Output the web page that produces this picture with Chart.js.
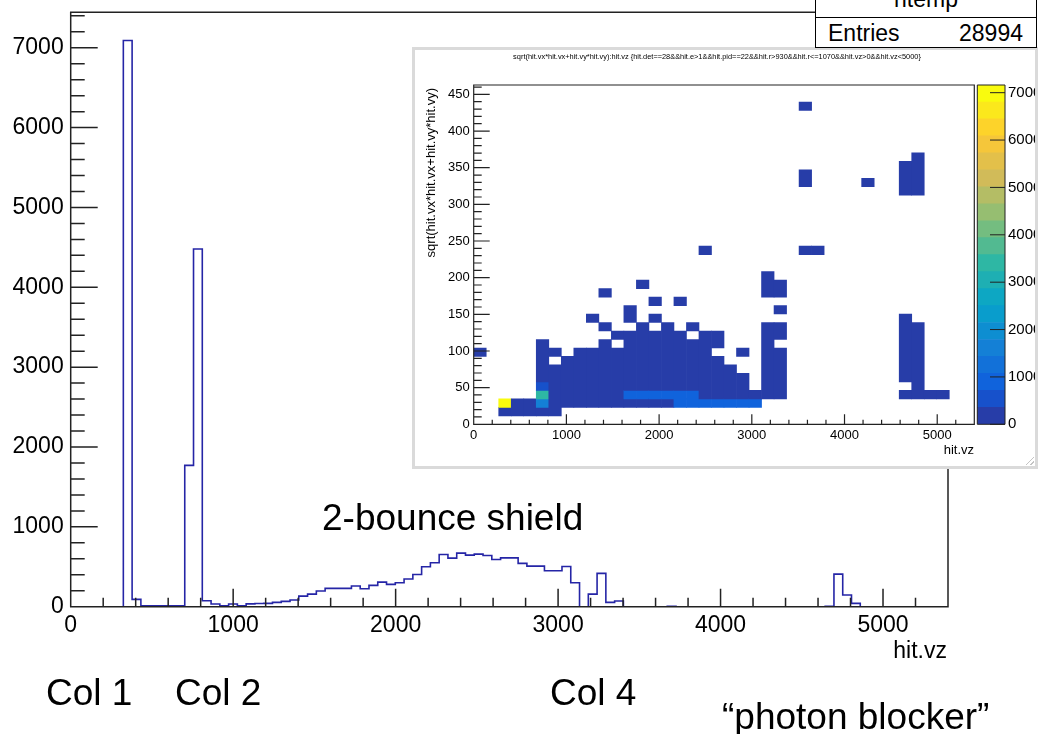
<!DOCTYPE html>
<html>
<head>
<meta charset="utf-8">
<title>hit.vz</title>
<script src="https://cdn.jsdelivr.net/npm/chart.js@4.4.1/dist/chart.umd.min.js"></script>
<style>
  html, body { margin: 0; padding: 0; background: #fff; }
  body { position: relative; width: 1040px; height: 734px; overflow: hidden;
         font-family: "Liberation Sans", Arial, Helvetica, sans-serif; color: #000; }
  canvas { position: absolute; left: 0; top: 0; }
  .txt { position: absolute; white-space: nowrap; line-height: 1; }
  .big { font-size: 37px; }
  .mid { font-size: 23px; }
  #stats { position: absolute; left: 815px; top: -32px; width: 220px; height: 78px;
           border: 1px solid #000; background: #fff; z-index: 3; }
  #statsLine { position: absolute; left: 0; top: 48px; width: 220px; height: 1px; background: #000; }
  #inset { position: absolute; left: 412px; top: 47px; width: 620px; height: 416px;
           border: 3px solid #dadada; background: #fff; overflow: hidden; z-index: 2; }
  #insetTitle { left: 0; top: 3px; width: 604px; text-align: center; font-size: 7.4px; }
  #insetYTitle { left: -291.5px; top: 38px; width: 300px; text-align: right; font-size: 13px;
                 transform-origin: 100% 0; transform: rotate(-90deg); }
  #insetXTitle { right: 61px; top: 393px; font-size: 13px; }
  #grip { position: absolute; right: 1px; bottom: 1px; width: 8px; height: 8px;
          background: linear-gradient(135deg, transparent 45%, #c4c4c4 45%, #c4c4c4 55%, transparent 55%, transparent 75%, #c4c4c4 75%, #c4c4c4 85%, transparent 85%); }
</style>
</head>
<body>
<canvas id="main" width="1040" height="734"></canvas>

<div class="txt mid" style="right:93px; top:638.5px;">hit.vz</div>
<div class="txt big" style="left:322px; top:498.7px;">2-bounce shield</div>
<div class="txt big" style="left:46px; top:673.7px;">Col 1</div>
<div class="txt big" style="left:175px; top:673.7px;">Col 2</div>
<div class="txt big" style="left:550px; top:673.7px;">Col 4</div>
<div class="txt big" style="left:722px; top:697.7px;">“photon blocker”</div>

<div id="stats">
  <div class="txt mid" style="left:0; width:220px; text-align:center; top:18.5px;">htemp</div>
  <div id="statsLine"></div>
  <div class="txt mid" style="left:12px; top:52.5px;">Entries</div>
  <div class="txt mid" style="right:13px; top:52.5px;">28994</div>
</div>

<div id="inset">
  <canvas id="map" width="620" height="416"></canvas>
  <canvas id="palette" width="60" height="416" style="left:560px;"></canvas>
  <div id="insetTitle" class="txt">sqrt(hit.vx*hit.vx+hit.vy*hit.vy):hit.vz {hit.det==28&amp;&amp;hit.e&gt;1&amp;&amp;hit.pid==22&amp;&amp;hit.r&gt;930&amp;&amp;hit.r&lt;=1070&amp;&amp;hit.vz&gt;0&amp;&amp;hit.vz&lt;5000}</div>
  <div id="insetYTitle" class="txt">sqrt(hit.vx*hit.vx+hit.vy*hit.vy)</div>
  <div id="insetXTitle" class="txt">hit.vz</div>
  <div id="grip"></div>
</div>

<script>
// ---- 1D histogram of hit.vz (100 bins over 0..5400) ----
const vzMin = 0;
const vzMax = 5400;
const vzCounts = [
  0, 0, 0, 0, 0, 0, 7090, 92, 12, 10,
  10, 12, 10, 1770, 4480, 75, 33, 12, 33, 12,
  35, 40, 42, 54, 67, 83, 133, 158, 196, 229,
  229, 229, 260, 225, 267, 308, 279, 300, 346, 404,
  500, 550, 654, 608, 671, 646, 658, 642, 592, 612,
  612, 542, 508, 508, 450, 450, 504, 300, 0, 158,
  417, 54, 71, 0, 0, 0, 0, 0, 4, 0,
  0, 0, 0, 0, 0, 0, 0, 0, 0, 0,
  0, 0, 0, 0, 0, 0, 5, 408, 146, 42,
  0, 0, 0, 0, 0, 0, 0, 0, 0, 0
];
const vzYMax = 7444;
const vzTicks = [0, 1000, 2000, 3000, 4000, 5000];
const countTicks = [0, 1000, 2000, 3000, 4000, 5000, 6000, 7000];

// ---- 2D histogram r vs vz (40 x 40 bins) ----
const mapXMax = 5400;
const mapYMax = 462.8;
const mapBins = 40;
const mapZMax = 7162;
const mapLevels = 20;
const mapXTicks = [0, 1000, 2000, 3000, 4000, 5000];
const mapYTicks = [0, 50, 100, 150, 200, 250, 300, 350, 400, 450];
const zTicks = [0, 1000, 2000, 3000, 4000, 5000, 6000, 7000];
// [column, first row, last row, count]
const zCells = [
  [0, 8, 8, 80],
  [2, 1, 1, 150], [2, 2, 2, 7160],
  [3, 1, 2, 200], [4, 1, 2, 200],
  [5, 1, 1, 150], [5, 2, 2, 1700], [5, 3, 3, 3300], [5, 4, 4, 600], [5, 5, 9, 100],
  [6, 1, 6, 150], [6, 8, 8, 60],
  [7, 2, 7, 150],
  [8, 2, 8, 150],
  [9, 2, 8, 150], [9, 12, 12, 50],
  [10, 2, 9, 150], [10, 11, 11, 50], [10, 15, 15, 50],
  [11, 2, 8, 150], [11, 10, 10, 80],
  [12, 2, 2, 200], [12, 3, 3, 800], [12, 4, 10, 150], [12, 12, 13, 50],
  [13, 2, 2, 200], [13, 3, 3, 800], [13, 4, 11, 150], [13, 16, 16, 50],
  [14, 2, 2, 200], [14, 3, 3, 800], [14, 4, 10, 150], [14, 12, 12, 50], [14, 14, 14, 50],
  [15, 2, 2, 200], [15, 3, 3, 800], [15, 4, 11, 150],
  [16, 2, 2, 800], [16, 3, 3, 800], [16, 4, 10, 150], [16, 14, 14, 50],
  [17, 2, 2, 1000], [17, 3, 3, 800], [17, 4, 9, 150], [17, 11, 11, 50],
  [18, 2, 2, 1000], [18, 3, 10, 150], [18, 20, 20, 50],
  [19, 2, 2, 1000], [19, 3, 7, 150], [19, 9, 10, 100],
  [20, 2, 2, 1000], [20, 3, 6, 150],
  [21, 2, 2, 1000], [21, 3, 5, 150], [21, 8, 8, 50],
  [22, 2, 2, 1000], [22, 3, 3, 150],
  [23, 3, 11, 150], [23, 15, 17, 60],
  [24, 3, 8, 150], [24, 10, 11, 80], [24, 13, 13, 50], [24, 15, 16, 60],
  [26, 20, 20, 50], [26, 28, 29, 50], [26, 37, 37, 40],
  [27, 20, 20, 50],
  [31, 28, 28, 40],
  [34, 3, 3, 100], [34, 5, 12, 150], [34, 27, 30, 80],
  [35, 3, 11, 150], [35, 27, 31, 80],
  [36, 3, 3, 100], [37, 3, 3, 100]
];

// ROOT "bird" palette
const birdStops = [0, 0.125, 0.25, 0.375, 0.5, 0.625, 0.75, 0.875, 1];
const birdR = [0.2082, 0.0592, 0.0780, 0.0232, 0.1802, 0.5301, 0.8186, 0.9956, 0.9764];
const birdG = [0.1664, 0.3599, 0.5041, 0.6419, 0.7178, 0.7492, 0.7328, 0.7862, 0.9832];
const birdB = [0.5293, 0.8684, 0.8385, 0.7914, 0.6425, 0.4662, 0.3499, 0.1968, 0.0539];

function bird(f) {
  let k = 0;
  while (k < birdStops.length - 2 && f > birdStops[k + 1]) k++;
  const t = (f - birdStops[k]) / (birdStops[k + 1] - birdStops[k]);
  const c = arr => Math.round(255 * (arr[k] + t * (arr[k + 1] - arr[k])));
  return `rgb(${c(birdR)},${c(birdG)},${c(birdB)})`;
}
function levelColour(level) {
  const idx = Math.floor((level + 0.99) * 255 / mapLevels);
  return bird(Math.min(idx, 254) / 254);
}
function countColour(n) {
  return levelColour(Math.min(mapLevels - 1, Math.floor(n / mapZMax * mapLevels)));
}

// ticks inside the frame, like ROOT
const rootAxes = {
  id: 'rootAxes',
  afterDatasetsDraw(chart, args, o) {
    const ctx = chart.ctx, a = chart.chartArea;
    ctx.save();
    ctx.strokeStyle = o.color;
    ctx.lineWidth = o.lineWidth;
    ctx.beginPath();
    if (o.x) {
      const s = chart.scales.x;
      for (let v = 0; v <= s.max; v += o.x.minor) {
        const p = s.getPixelForValue(v);
        const len = v % o.x.major === 0 ? o.x.majorLen : o.x.minorLen;
        ctx.moveTo(p, a.bottom);
        ctx.lineTo(p, a.bottom - len);
      }
    }
    if (o.y) {
      const s = chart.scales.y;
      for (let v = 0; v <= s.max; v += o.y.minor) {
        const p = s.getPixelForValue(v);
        const len = v % o.y.major === 0 ? o.y.majorLen : o.y.minorLen;
        if (o.y.right) { ctx.moveTo(a.right, p); ctx.lineTo(a.right - len, p); }
        else { ctx.moveTo(a.left, p); ctx.lineTo(a.left + len, p); }
      }
    }
    ctx.rect(a.left, a.top, a.right - a.left, a.bottom - a.top);
    ctx.stroke();
    ctx.restore();
  }
};

const font = 'Liberation Sans, Arial, sans-serif';
const fixedTicks = list => s => { s.ticks = list.map(v => ({ value: v })); };
// keep the plot area exactly where the layout padding puts it
const fixSize = (w, h) => s => {
  if (w !== null) s.width = w;
  if (h !== null) s.height = h;
  s.paddingTop = 0; s.paddingBottom = 0; s.paddingLeft = 0; s.paddingRight = 0;
};
const plain = v => String(v);

// ---- main histogram ----
function drawMain() {
  const binW = (vzMax - vzMin) / vzCounts.length;
  const pts = vzCounts.map((n, i) => ({ x: vzMin + i * binW, y: n }));
  pts.push({ x: vzMax, y: vzCounts[vzCounts.length - 1] });

  new Chart(document.getElementById('main'), {
    type: 'line',
    data: {
      datasets: [{
        data: pts,
        stepped: 'before',
        borderColor: '#2525a6',
        borderWidth: 1.6,
        pointRadius: 0,
        fill: false
      }]
    },
    options: {
      responsive: false,
      animation: false,
      layout: { padding: { left: 0, top: 12.3, right: 92, bottom: 67.3 } },
      plugins: {
        legend: { display: false },
        tooltip: { enabled: false },
        rootAxes: {
          color: '#222', lineWidth: 1.5,
          x: { minor: 200, major: 1000, minorLen: 9, majorLen: 18 },
          y: { minor: 200, major: 1000, minorLen: 14, majorLen: 27 }
        }
      },
      scales: {
        x: {
          type: 'linear', min: vzMin, max: vzMax,
          grid: { display: false, drawTicks: false },
          border: { display: false },
          afterBuildTicks: fixedTicks(vzTicks),
          afterFit: fixSize(null, 60),
          ticks: { autoSkip: false, maxRotation: 0, padding: 5,
                   color: '#000', font: { family: font, size: 23 }, callback: plain }
        },
        y: {
          min: 0, max: vzYMax,
          grid: { display: false, drawTicks: false },
          border: { display: false },
          afterBuildTicks: fixedTicks(countTicks),
          afterFit: fixSize(70.7, null),
          ticks: { autoSkip: false, padding: 7,
                   color: '#000', font: { family: font, size: 23 }, callback: plain }
        }
      }
    },
    plugins: [rootAxes]
  });
}

// ---- inset: 2D map ----
function drawMap() {
  const cw = mapXMax / mapBins, ch = mapYMax / mapBins;
  const bars = zCells.map(([col, r0, r1, n]) => ({
    x: (col + 0.5) * cw,
    y: [r0 * ch, (r1 + 1) * ch],
    n: n
  }));

  new Chart(document.getElementById('map'), {
    type: 'bar',
    data: {
      datasets: [{
        data: bars,
        backgroundColor: c => countColour(c.raw ? c.raw.n : 0),
        borderWidth: 0,
        barPercentage: 1,
        categoryPercentage: 1
      }]
    },
    options: {
      responsive: false,
      animation: false,
      layout: { padding: { left: 0, top: 35, right: 60.7, bottom: 11.7 } },
      plugins: {
        legend: { display: false },
        tooltip: { enabled: false },
        rootAxes: {
          color: '#222', lineWidth: 1.2,
          x: { minor: 200, major: 1000, minorLen: 4.5, majorLen: 10 },
          y: { minor: 10, major: 50, minorLen: 8, majorLen: 16 }
        }
      },
      scales: {
        x: {
          type: 'linear', min: 0, max: mapXMax, offset: false,
          grid: { display: false, drawTicks: false, offset: false },
          border: { display: false },
          afterBuildTicks: fixedTicks(mapXTicks),
          afterFit: fixSize(null, 30),
          ticks: { autoSkip: false, maxRotation: 0, padding: 3,
                   color: '#000', font: { family: font, size: 13 }, callback: plain }
        },
        y: {
          type: 'linear', min: 0, max: mapYMax,
          grid: { display: false, drawTicks: false },
          border: { display: false },
          afterBuildTicks: fixedTicks(mapYTicks),
          afterFit: fixSize(58.7, null),
          ticks: { autoSkip: false, padding: 4,
                   color: '#000', font: { family: font, size: 13 }, callback: plain }
        }
      }
    },
    plugins: [rootAxes]
  });
}

// ---- inset: colour scale ----
function drawPalette() {
  const step = mapZMax / mapLevels;
  const sets = [];
  for (let k = 0; k < mapLevels; k++) {
    sets.push({ data: [step], backgroundColor: levelColour(k), borderWidth: 0,
                barPercentage: 1, categoryPercentage: 1 });
  }
  new Chart(document.getElementById('palette'), {
    type: 'bar',
    data: { labels: ['z'], datasets: sets },
    options: {
      responsive: false,
      animation: false,
      layout: { padding: { left: 2.3, top: 35, right: 0, bottom: 41.7 } },
      plugins: {
        legend: { display: false },
        tooltip: { enabled: false },
        rootAxes: {
          color: '#222', lineWidth: 1,
          y: { minor: 1000, major: 1000, majorLen: 15, minorLen: 15, right: true }
        }
      },
      scales: {
        x: { display: false, stacked: true },
        y: {
          position: 'right', stacked: true, min: 0, max: mapZMax,
          grid: { display: false, drawTicks: false },
          border: { display: false },
          afterBuildTicks: fixedTicks(zTicks),
          afterFit: fixSize(30, null),
          ticks: { autoSkip: false, padding: 3,
                   color: '#000', font: { family: font, size: 15 }, callback: plain }
        }
      }
    },
    plugins: [rootAxes]
  });
}

drawMain();
drawMap();
drawPalette();
</script>
</body>
</html>
